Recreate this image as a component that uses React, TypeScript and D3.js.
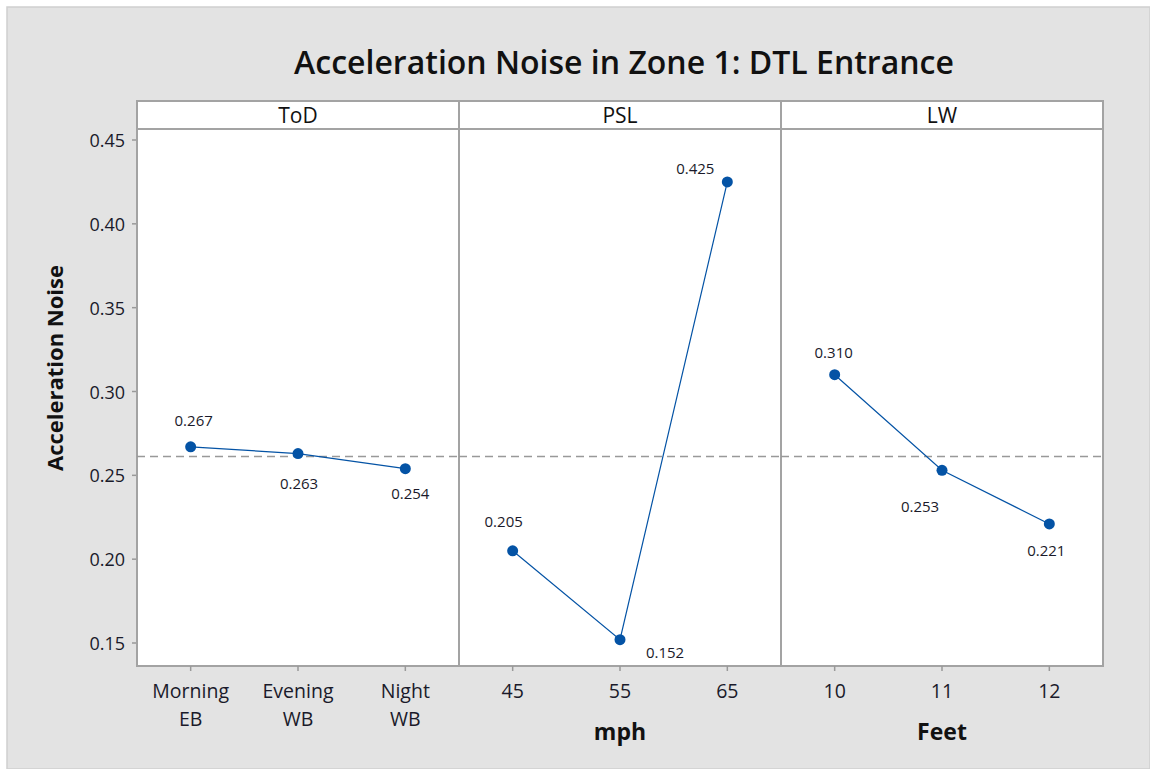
import React from "react";
import * as d3 from "d3";

const panels = ["ToD", "PSL", "LW"];
const todCategories = ["Morning\nEB", "Evening\nWB", "Night\nWB"];
const pslCategories = ["45", "55", "65"];
const lwCategories = ["10", "11", "12"];
const todValues = [0.267, 0.263, 0.254];
const pslValues = [0.205, 0.152, 0.425];
const lwValues = [0.310, 0.253, 0.221];
const yTicks = [0.15, 0.2, 0.25, 0.3, 0.35, 0.4, 0.45];
const xTitles = ["", "mph", "Feet"];
const overallMean = 0.2613;

// label offsets (styling only) [dx, baseline dy] relative to point
const labelOffsets = [
  [[3, -21], [1, 35], [5, 30]],
  [[-9, -24], [45, 18], [-32, -8]],
  [[-1, -17], [-22, 42], [-3, 32]],
];

const W = 1150, H = 769;
const plotLeft = 137, plotRight = 1103, stripTop = 101, plotTop = 129, plotBottom = 666;
const blue = "#0453a5";
const font = "'Open Sans', 'Noto Sans', sans-serif";
const textColor = "#1a1a2a";

export default function App() {
  const y = d3.scaleLinear().domain([0.15, 0.45]).range([643, 140]);
  const panelX = d3.scaleBand<number>().domain([0, 1, 2]).range([plotLeft, plotRight]).paddingInner(0).paddingOuter(0);
  const data = [
    { cats: todCategories, vals: todValues },
    { cats: pslCategories, vals: pslValues },
    { cats: lwCategories, vals: lwValues },
  ];
  const line = d3.line<[number, number]>().x(d => d[0]).y(d => d[1]);
  return (
    <svg width={W} height={H} style={{ position: "absolute", left: 0, top: 0 }} fontFamily={font}>
      <rect x={0} y={0} width={W} height={H} fill="#fff" />
      <rect x={7} y={7} width={W - 7} height={H - 7} fill="#e3e3e3" stroke="#cfcfcf" strokeWidth={1.5} />
      <text x={624} y={74} textAnchor="middle" fontSize={32} fontWeight={600} fill="#111">
        Acceleration Noise in Zone 1: DTL Entrance
      </text>
      {/* y axis title */}
      <text transform={`translate(63,368) rotate(-90)`} textAnchor="middle" fontSize={22} fontWeight={700} fill="#111">
        Acceleration Noise
      </text>
      {yTicks.map(t => (
        <g key={t}>
          <line x1={plotLeft - 5} x2={plotLeft} y1={y(t)} y2={y(t)} stroke="#999" strokeWidth={1.5} />
          <text x={plotLeft - 12} y={y(t) + 7} textAnchor="end" fontSize={18} fill={textColor}>{t.toFixed(2)}</text>
        </g>
      ))}
      {data.map((p, i) => {
        const x0 = panelX(i)!;
        const bw = panelX.bandwidth();
        const xs = d3.scalePoint<string>().domain(p.cats).range([x0, x0 + bw]).padding(0.5);
        const pts: [number, number][] = p.vals.map((v, j) => [xs(p.cats[j])!, y(v)]);
        return (
          <g key={i}>
            <rect x={x0} y={stripTop} width={bw} height={plotTop - stripTop} fill="#fff" stroke="#a3a3a3" strokeWidth={2} />
            <text x={x0 + bw / 2} y={stripTop + 22} textAnchor="middle" fontSize={21} fill="#111">{panels[i]}</text>
            <rect x={x0} y={plotTop} width={bw} height={plotBottom - plotTop} fill="#fff" stroke="#a3a3a3" strokeWidth={2} />
            <line x1={x0} x2={x0 + bw} y1={y(overallMean)} y2={y(overallMean)} stroke="#999" strokeWidth={1.5} strokeDasharray="8,5" />
            <path d={line(pts)!} fill="none" stroke={blue} strokeWidth={1.2} />
            {pts.map((pt, j) => (
              <g key={j}>
                <circle cx={pt[0]} cy={pt[1]} r={5.5} fill={blue} />
                <text x={pt[0] + labelOffsets[i][j][0]} y={pt[1] + labelOffsets[i][j][1]} textAnchor="middle" fontSize={15} fill={textColor}>
                  {p.vals[j].toFixed(3)}
                </text>
              </g>
            ))}
            {p.cats.map((c, j) => (
              <g key={c}>
                <line x1={xs(c)!} x2={xs(c)!} y1={plotBottom} y2={plotBottom + 5} stroke="#999" strokeWidth={1.5} />
                {c.split("\n").map((ln, k) => (
                  <text key={k} x={xs(c)!} y={698 + k * 28} textAnchor="middle" fontSize={19.5} fill={textColor}>{ln}</text>
                ))}
              </g>
            ))}
            {xTitles[i] && (
              <text x={x0 + bw / 2} y={740} textAnchor="middle" fontSize={23} fontWeight={700} fill="#111">{xTitles[i]}</text>
            )}
          </g>
        );
      })}
    </svg>
  );
}
